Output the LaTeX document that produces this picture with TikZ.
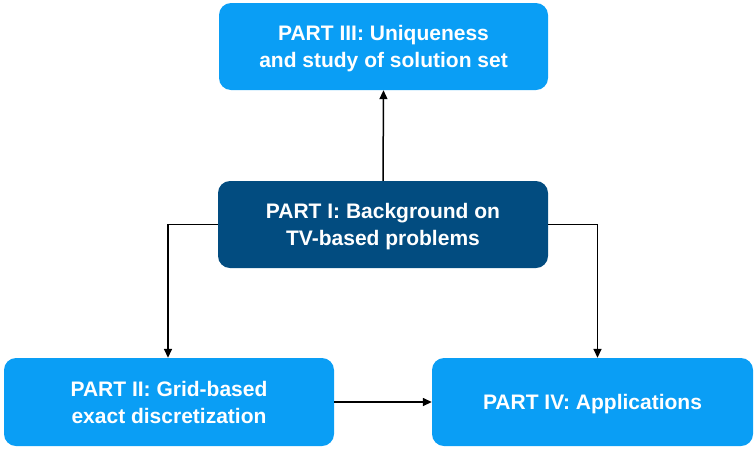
\documentclass[tikz,border=0pt]{standalone}
\usepackage{fontspec}
\setmainfont{Liberation Sans}
\usetikzlibrary{arrows.meta}
\definecolor{lightbox}{RGB}{10,158,245}
\definecolor{darkbox}{RGB}{2,76,128}
\tikzset{
  partbox/.style={rounded corners=12pt, minimum height=87pt, text=white, align=center,
    font=\fontsize{21}{27}\selectfont\bfseries, inner sep=0pt, text depth=0pt},
  conn/.style={line width=1.5pt, -{Triangle[length=9pt,width=8pt]}}
}
\begin{document}
\begin{tikzpicture}[x=1pt,y=-1pt]
\useasboundingbox (0,0) rectangle (755,448);
\node[partbox, fill=lightbox, minimum width=329pt] (p3) at (383.5,46.5) {PART III: Uniqueness\\and study of solution set};
\node[partbox, fill=darkbox, minimum width=330pt] (p1) at (383,224.5) {PART I: Background on\\TV-based problems};
\node[partbox, fill=lightbox, minimum width=330pt, minimum height=88pt] (p2) at (169,402) {PART II: Grid-based\\exact discretization};
\node[partbox, fill=lightbox, minimum width=321pt, minimum height=88pt] (p4) at (592.5,402) {PART IV: Applications};
\coordinate (lc) at (168,224.5);
\coordinate (rc) at (597.5,224.5);
\draw[conn] (p1.north) -- (p3.south);
\draw[conn] (p1.west) -- (lc) -- (lc |- p2.north);
\draw[conn] (p1.east) -- (rc) -- (rc |- p4.north);
\draw[conn] (p2.east) -- (p4.west);
\end{tikzpicture}
\end{document}
